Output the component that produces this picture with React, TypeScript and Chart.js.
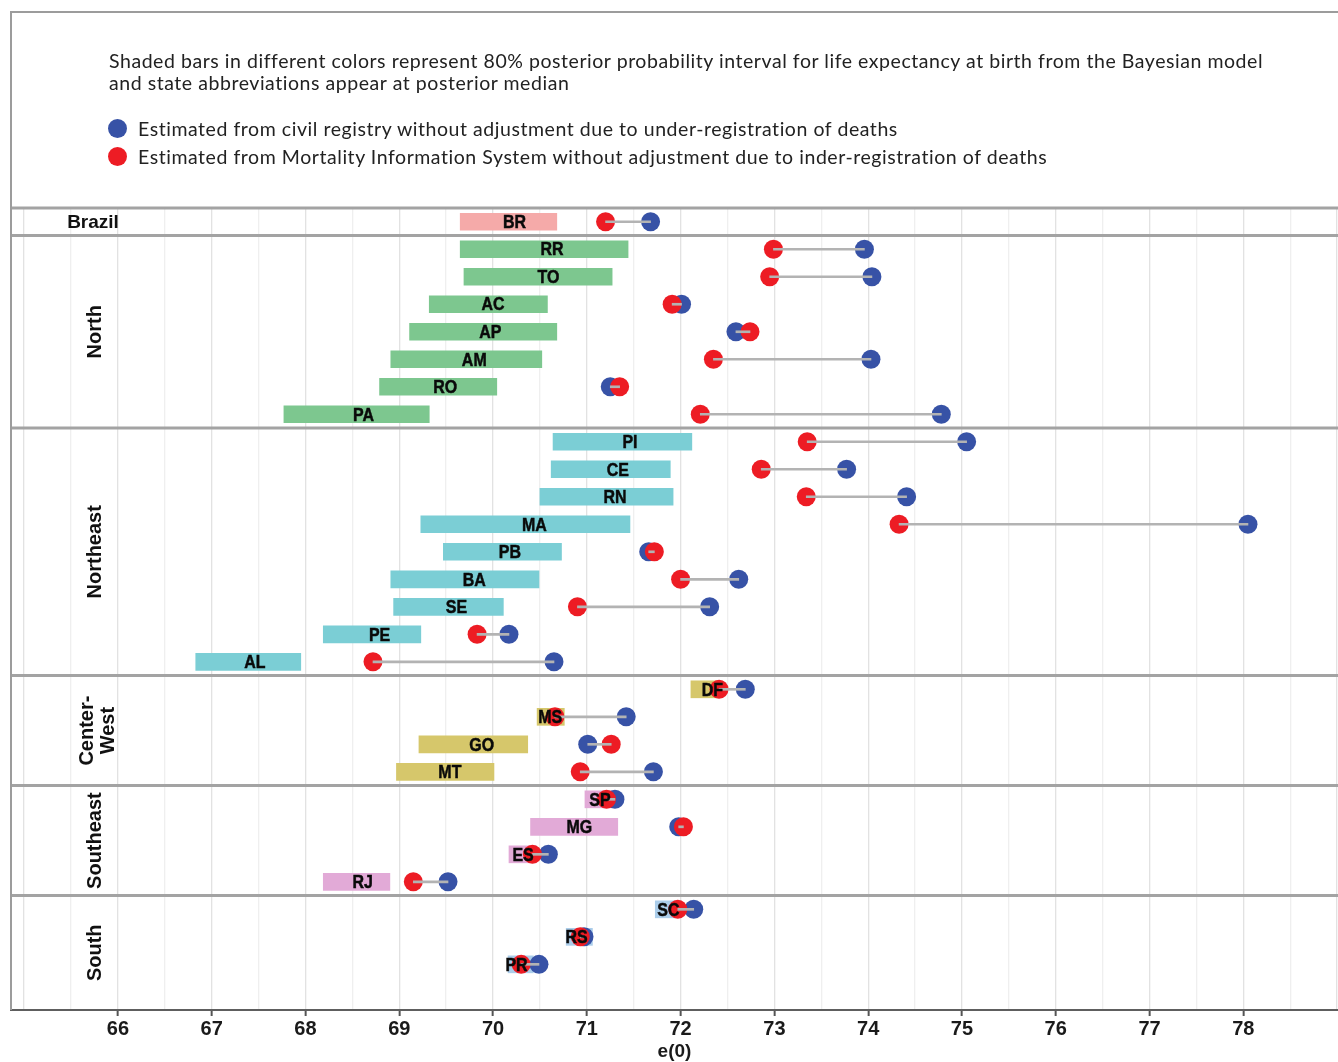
import React, { useEffect, useRef } from 'react';
import { Chart, registerables } from 'chart.js';

Chart.register(...registerables);

// ---------- data ----------
const states = ['BR', 'RR', 'TO', 'AC', 'AP', 'AM', 'RO', 'PA', 'PI', 'CE', 'RN', 'MA', 'PB', 'BA', 'SE', 'PE', 'AL', 'DF', 'MS', 'GO', 'MT', 'SP', 'MG', 'ES', 'RJ', 'SC', 'RS', 'PR'];
const stateRegion = ['Brazil', 'North', 'North', 'North', 'North', 'North', 'North', 'North', 'Northeast', 'Northeast', 'Northeast', 'Northeast', 'Northeast', 'Northeast', 'Northeast', 'Northeast', 'Northeast', 'Center-West', 'Center-West', 'Center-West', 'Center-West', 'Southeast', 'Southeast', 'Southeast', 'Southeast', 'South', 'South', 'South'];
const regions = ['Brazil', 'North', 'Northeast', 'Center-West', 'Southeast', 'South'];
const regionStripLines = [['Brazil'], ['North'], ['Northeast'], ['Center-', 'West'], ['Southeast'], ['South']];

// 80% posterior interval (Bayesian model)
const intervalLow = [69.65, 69.65, 69.69, 69.32, 69.11, 68.91, 68.79, 67.77, 70.64, 70.62, 70.50, 69.23, 69.47, 68.91, 68.94, 68.19, 66.83, 72.11, 70.47, 69.21, 68.97, 70.98, 70.40, 70.17, 68.19, 71.73, 70.78, 70.16];
const intervalHigh = [70.68, 71.44, 71.27, 70.58, 70.68, 70.52, 70.04, 69.32, 72.12, 71.89, 71.92, 71.46, 70.73, 70.49, 70.11, 69.23, 67.95, 72.41, 70.76, 70.37, 70.01, 71.27, 71.33, 70.46, 68.90, 71.98, 71.06, 70.43];
const posteriorMedian = [70.23, 70.63, 70.59, 70.00, 69.97, 69.80, 69.49, 68.62, 71.46, 71.33, 71.30, 70.44, 70.18, 69.80, 69.61, 68.79, 67.46, 72.34, 70.61, 69.88, 69.54, 71.14, 70.92, 70.32, 68.61, 71.87, 70.89, 70.25];
// Civil registry (blue) and Mortality Information System (red)
const civilRegistry = [71.68, 73.96, 74.04, 72.01, 72.59, 74.03, 71.25, 74.78, 75.05, 73.77, 74.41, 78.05, 71.66, 72.62, 72.31, 70.17, 70.65, 72.69, 71.42, 71.01, 71.71, 71.30, 71.98, 70.59, 69.52, 72.14, 70.97, 70.49];
const mortalitySystem = [71.20, 72.99, 72.95, 71.91, 72.74, 72.35, 71.35, 72.21, 73.35, 72.86, 73.34, 74.33, 71.72, 72.00, 70.90, 69.83, 68.72, 72.41, 70.66, 71.26, 70.93, 71.21, 72.03, 70.42, 69.15, 71.97, 70.93, 70.30];

const xTickLabels = [66, 67, 68, 69, 70, 71, 72, 73, 74, 75, 76, 77, 78];

const headerLines = [
  'Shaded bars in different colors represent 80% posterior probability interval for life expectancy at birth from the Bayesian model',
  'and state abbreviations appear at posterior median',
];
const legendLabels = [
  'Estimated from civil registry without adjustment due to under-registration of deaths',
  'Estimated from Mortality Information System without adjustment due to inder-registration of deaths',
];

// ---------- styles ----------
const regionColors: Record<string, string> = {
  'Brazil': '#f5aaa9',
  'North': '#7dc78f',
  'Northeast': '#7bced5',
  'Center-West': '#d6c76b',
  'Southeast': '#e2aad7',
  'South': '#abcdea',
};
const BLUE = '#3752a6';
const RED = '#ed1c24';
const SANS = '"Liberation Sans", Arial, sans-serif';
const HEADER = 'Lato, "Open Sans", sans-serif';

const panelPlugin = {
  id: 'panelDecor',
  beforeDatasetsDraw(chart: any) {
    const { ctx, chartArea, scales } = chart;
    const y = scales.y;
    ctx.save();
    ctx.fillStyle = '#111';
    regions.forEach((region, ri) => {
      const idx = stateRegion.map((r, i) => (r === region ? i : -1)).filter((i) => i >= 0);
      const top = y.getPixelForValue(idx[0] - 0.5);
      const bottom = ri === regions.length - 1 ? chartArea.bottom : y.getPixelForValue(idx[idx.length - 1] + 0.5);
      const cy = (top + bottom) / 2;
      const lines = regionStripLines[ri];
      if (region === 'Brazil') {
        ctx.font = 'bold 19px ' + SANS;
        ctx.textAlign = 'center';
        ctx.textBaseline = 'middle';
        ctx.fillText(lines[0], 93, cy + 1);
      } else {
        ctx.save();
        const cx = lines.length > 1 ? 97.5 : 95;
        ctx.translate(cx, cy);
        ctx.rotate(-Math.PI / 2);
        ctx.font = 'bold 20px ' + SANS;
        ctx.textAlign = 'center';
        ctx.textBaseline = 'middle';
        const gap = 21;
        lines.forEach((ln, li) => {
          ctx.fillText(ln, 0, (li - (lines.length - 1) / 2) * gap);
        });
        ctx.restore();
      }
    });
    ctx.restore();
  },
  afterDatasetsDraw(chart: any) {
    const { ctx, chartArea, scales } = chart;
    const y = scales.y;
    ctx.save();
    // state abbreviations at posterior median, on top of the dots
    ctx.font = 'bold 19px ' + SANS;
    ctx.fillStyle = '#0a0a0a';
    ctx.strokeStyle = '#0a0a0a';
    ctx.lineWidth = 0.5;
    ctx.textAlign = 'center';
    ctx.textBaseline = 'middle';
    states.forEach((s, i) => {
      const px = scales.x.getPixelForValue(posteriorMedian[i]);
      const py = y.getPixelForValue(i) + 1;
      ctx.save();
      ctx.translate(px, py);
      ctx.scale(0.84, 1);
      ctx.fillText(s, 0, 0);
      ctx.strokeText(s, 0, 0);
      ctx.restore();
    });
    // panel separators
    ctx.strokeStyle = '#a3a3a3';
    ctx.lineWidth = 3;
    const bounds: number[] = [chartArea.top];
    regions.forEach((region, ri) => {
      if (ri === 0) return;
      const first = stateRegion.indexOf(region);
      bounds.push(y.getPixelForValue(first - 0.5));
    });
    bounds.forEach((b) => {
      ctx.beginPath();
      ctx.moveTo(chartArea.left, b);
      ctx.lineTo(chart.width, b);
      ctx.stroke();
    });
    ctx.strokeStyle = '#9c9c9c';
    ctx.lineWidth = 2;
    ctx.beginPath();
    ctx.moveTo(chartArea.left, chartArea.top);
    ctx.lineTo(chartArea.left, chartArea.bottom);
    ctx.stroke();
    ctx.restore();
  },
};

export default function App() {
  const canvasRef = useRef<HTMLCanvasElement | null>(null);

  useEffect(() => {
    document.body.style.overflow = 'hidden';
    const canvas = canvasRef.current;
    if (!canvas) return;
    const rows = states.map((_, i) => i);
    const chart = new Chart(canvas, {
      type: 'bar',
      data: {
        datasets: [
          {
            type: 'bar',
            label: '80% posterior interval',
            indexAxis: 'y',
            data: rows.map((i) => ({ x: [intervalLow[i], intervalHigh[i]], y: i })) as any,
            backgroundColor: rows.map((i) => regionColors[stateRegion[i]]),
            borderWidth: 0,
            barThickness: 17,
            grouped: false,
            order: 3,
          } as any,
          {
            type: 'scatter',
            label: legendLabels[0],
            data: rows.map((i) => ({ x: civilRegistry[i], y: i })),
            backgroundColor: BLUE,
            borderWidth: 0,
            pointRadius: 9.5,
            pointHoverRadius: 9.5,
            order: 2,
          } as any,
          {
            type: 'scatter',
            label: legendLabels[1],
            data: rows.map((i) => ({ x: mortalitySystem[i], y: i })),
            backgroundColor: RED,
            borderWidth: 0,
            pointRadius: 9.5,
            pointHoverRadius: 9.5,
            order: 1,
          } as any,
          {
            type: 'bar',
            label: 'difference',
            indexAxis: 'y',
            data: rows.map((i) => ({ x: [mortalitySystem[i], civilRegistry[i]], y: i })) as any,
            backgroundColor: '#b3b3b3',
            borderWidth: 0,
            barThickness: 2,
            grouped: false,
            order: 0,
          } as any,
        ],
      },
      options: {
        responsive: false,
        animation: false,
        layout: { autoPadding: false, padding: { left: 11, right: 0, top: 208, bottom: 0 } },
        plugins: {
          legend: { display: false },
          tooltip: { enabled: false },
          title: { display: false },
        },
        scales: {
          x: {
            type: 'linear',
            position: 'bottom',
            offset: false,
            min: 64.86,
            max: 79.01,
            afterFit: (s: any) => {
              s.height = 52;
              s.paddingLeft = 0;
              s.paddingRight = 0;
            },
            ticks: {
              stepSize: 0.5,
              includeBounds: false,
              autoSkip: false,
              maxRotation: 0,
              minRotation: 0,
              padding: 1,
              color: '#1a1a1a',
              font: { family: SANS, size: 20, weight: 'bold' },
              callback: (v: any) => (xTickLabels.includes(Number(v)) ? String(v) : ''),
            },
            grid: {
              offset: false,
              color: (c: any) => (Number.isInteger(c.tick?.value) ? '#e2e2e2' : '#efefef'),
              lineWidth: 1.3,
              tickLength: 6,
              tickWidth: 2,
              tickColor: (c: any) => (xTickLabels.includes(c.tick?.value) ? '#555' : 'rgba(0,0,0,0)'),
            },
            border: { display: true, color: '#5e5e5e', width: 2 },
            title: {
              display: true,
              text: 'e(0)',
              color: '#1a1a1a',
              font: { family: SANS, size: 19, weight: 'bold', lineHeight: 1 },
              padding: { top: 0, bottom: 1 },
            },
          },
          y: {
            type: 'linear',
            reverse: true,
            offset: false,
            min: -0.5,
            max: 28.66,
            display: false,
          },
        },
      } as any,
      plugins: [panelPlugin],
    });
    return () => chart.destroy();
  }, []);

  return (
    <div style={{ position: 'absolute', left: 0, top: 0, width: 1338, height: 1062, overflow: 'hidden', background: '#fff' }}>
      <canvas ref={canvasRef} width={1338} height={1062} style={{ position: 'absolute', left: 0, top: 0 }} />
      <div
        style={{
          position: 'absolute',
          left: 10,
          top: 11,
          width: 1328,
          height: 198,
          boxSizing: 'border-box',
          borderTop: '2px solid #9c9c9c',
          borderLeft: '2px solid #9c9c9c',
        }}
      />
      <div
        style={{
          position: 'absolute',
          left: 109,
          top: 50,
          fontFamily: HEADER,
          fontSize: 19.5,
          letterSpacing: 0.55,
          lineHeight: '22px',
          color: '#222',
          whiteSpace: 'nowrap',
        }}
      >
        {headerLines.map((t, i) => (
          <div key={i}>{t}</div>
        ))}
      </div>
      {legendLabels.map((t, i) => (
        <div
          key={i}
          style={{
            position: 'absolute',
            left: 108,
            top: 117 + i * 28,
            height: 22,
            display: 'flex',
            alignItems: 'center',
            fontFamily: HEADER,
            fontSize: 19.5,
            letterSpacing: 0.55,
            color: '#222',
            whiteSpace: 'nowrap',
          }}
        >
          <span
            style={{
              display: 'inline-block',
              width: 19,
              height: 19,
              borderRadius: '50%',
              background: i === 0 ? BLUE : RED,
              marginRight: 11,
              flexShrink: 0,
            }}
          />
          {t}
        </div>
      ))}
    </div>
  );
}
